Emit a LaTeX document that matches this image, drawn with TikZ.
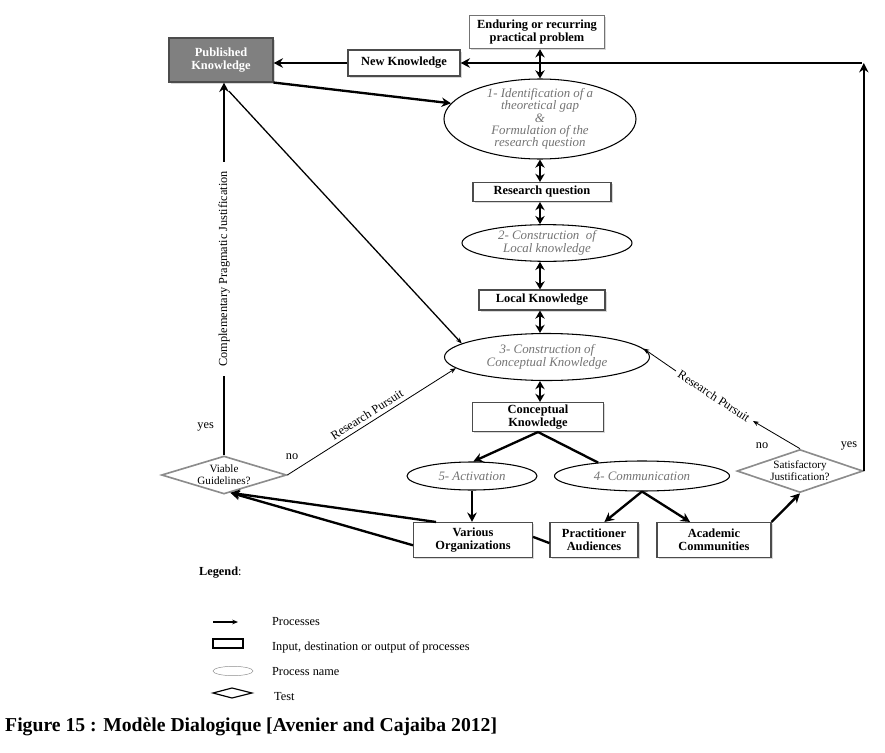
\documentclass[tikz,border=0pt]{standalone}
\usepackage{fontspec}
\setmainfont{Liberation Serif}
\usetikzlibrary{shapes.geometric, shadows, arrows.meta}

\tikzset{
  kbox/.style={draw=black!70, line width=0.9pt, fill=white, align=center,
    font=\fontsize{10.6}{11}\selectfont\bfseries, inner sep=1pt,
    drop shadow={shadow xshift=1.3pt, shadow yshift=-1.3pt, fill=black!30}},
  proc/.style={ellipse, draw, line width=0.9pt, align=center, inner sep=0pt,
    text=black!55, font=\fontsize{11}{11.2}\selectfont\itshape},
  test/.style={diamond, draw=black!45, line width=1.4pt, align=center,
    inner sep=0pt, aspect=3, font=\fontsize{9.5}{10}\selectfont},
  flow/.style={line width=2pt, -{Stealth[length=8pt, width=8pt]}},
  twoway/.style={line width=2pt, {Stealth[length=7pt, width=8pt]}-{Stealth[length=7pt, width=8pt]}},
  thinflow/.style={line width=0.7pt, -{Stealth[length=5pt, width=4pt]}},
  lbl/.style={font=\fontsize{10.5}{11}\selectfont},
}

\begin{document}
\begin{tikzpicture}[x=0.03cm, y=-0.03cm]
  \useasboundingbox (0,0) rectangle (885,753);

  %% ---- Boxes (inputs / outputs) ----
  \node[kbox, fill=black!50, text=white, minimum width=3.12cm, minimum height=1.32cm]
    (pub) at (221,60) {Published\\Knowledge};
  \node[kbox, minimum width=3.36cm, minimum height=0.78cm] (newk) at (404,63) {New Knowledge};
  \node[kbox, draw=black!55, minimum width=4.05cm, minimum height=1.0cm]
    (prob) at (537,32) {Enduring or recurring\\practical problem};
  \node[kbox, minimum width=4.14cm, minimum height=0.57cm] (rq) at (542,192) {Research question};
  \node[kbox, minimum width=3.78cm, minimum height=0.6cm] (lk) at (542,300) {Local Knowledge};
  \node[kbox, minimum width=3.93cm, minimum height=0.87cm] (ck) at (538,417) {Conceptual\\Knowledge};
  \node[kbox, minimum width=3.57cm, minimum height=1.05cm] (vo) at (473,540) {Various\\Organizations};
  \node[kbox, minimum width=2.64cm, minimum height=1.05cm] (pa) at (594,540) {Practitioner\\Audiences};
  \node[kbox, minimum width=3.42cm, minimum height=1.05cm] (ac) at (714,540) {Academic\\Communities};

  %% ---- Process names ----
  \node[proc, minimum width=5.76cm, minimum height=2.4cm, inner ysep=-9pt,
    font=\fontsize{11}{10.5}\selectfont\itshape] (e1) at (540,119)
    {1- Identification of a\\theoretical gap\\\&\\Formulation of the\\research question};
  \node[proc, minimum width=5.1cm, minimum height=1.1cm] (e2) at (547,243)
    {2- Construction\ \ of\\Local knowledge};
  \node[proc, minimum width=6.15cm, minimum height=1.41cm] (e3) at (547,357)
    {3- Construction of\\Conceptual Knowledge};
  \node[proc, minimum width=3.9cm, minimum height=0.84cm] (e5) at (472,476) {5- Activation};
  \node[proc, minimum width=5.25cm, minimum height=0.9cm] (e4) at (642,476) {4- Communication};

  %% ---- Tests ----
  \node[test, minimum width=3.75cm, minimum height=1.14cm] (viable) at (224,475) {Viable\\Guidelines?};
  \node[test, minimum width=3.78cm, minimum height=1.29cm] (satis) at (800,471) {Satisfactory\\Justification?};

  %% ---- Central column ----
  \coordinate (col) at (540,0);
  \draw[twoway] (col |- prob.south) -- (col |- e1.north);
  \draw[twoway] (col |- e1.south) -- (col |- rq.north);
  \draw[twoway] (col |- rq.south) -- (col |- e2.north);
  \draw[twoway] (col |- e2.south) -- (col |- lk.north);
  \draw[twoway] (col |- lk.south) -- (col |- e3.north);
  \draw[twoway] (col |- e3.south) -- (col |- ck.north);

  %% ---- Top loop ----
  \coordinate (corner) at (862,63);
  \draw[flow] (satis.east) -- (satis.east |- corner);
  \draw[flow] (corner) -- (newk.east);
  \draw[flow] (newk.west) -- (newk.west -| pub.east);
  \draw[flow] (pub.south east) -- (e1.170);
  \draw[thinflow, line width=1.1pt, shorten <=0.35cm] (pub.south) -- (e3.171);

  %% ---- Left test ----
  \draw[flow] (viable.north) -- (viable.north |- pub.south)
    node[lbl, midway, sloped, fill=white, inner xsep=8pt, inner ysep=1pt] (cpj)
    {Complementary Pragmatic Justification};
  \node[lbl, anchor=east] (yes1) at (218,427) {yes};
  \node[lbl] (no1) at (292,457) {no};
  \draw[thinflow] (viable.east) -- (e3.187)
    node[lbl, midway, above, sloped] (rp1) {Research Pursuit};

  %% ---- Right test ----
  \node[lbl] (no2) at (762,446) {no};
  \node[lbl] (yes2) at (849,446) {yes};
  \coordinate (rpa) at (753,421);
  \coordinate (rpb) at (676,371);
  \draw[thinflow] (satis.north) -- (rpa);
  \node[lbl, rotate=-33] (rp2) at (714,396) {Research Pursuit};
  \draw[thinflow] (rpb) -- (e3.5);

  %% ---- Bottom ----
  \draw[flow] (ck.south) -- (e5.85);
  \draw[line width=2pt] (ck.south) -- (e4.163);
  \draw[flow] (e5.south) -- (e5.south |- vo.north);
  \draw[flow] (e4.south) -- (pa.60);
  \draw[flow] (e4.south) -- (ac.143);
  \draw[line width=2pt] (vo.3) -- (pa.184);
  \draw[flow] (vo.154) -- (viable.-70);
  \draw[flow] (vo.185) -- (viable.-70);
  \draw[flow] (ac.north east) -- (satis.south);

  %% ---- Legend ----
  \node[lbl, anchor=west] (legend) at (195,573) {\textbf{Legend}:};
  \draw[line width=1.2pt, -{Stealth[length=5pt, width=4pt]}] (213,622) -- (238,622);
  \node[lbl, anchor=west] (lproc) at (268,622) {Processes};
  \draw[line width=1.2pt] (213,639) rectangle (243,648);
  \node[lbl, anchor=west] (lio) at (268,647) {Input, destination or output of processes};
  \draw[black!45] (233,671) ellipse (0.6cm and 0.14cm);
  \node[lbl, anchor=west] (lname) at (268,672) {Process name};
  \draw[line width=1pt] (213,693) -- (232,688) -- (252,693) -- (232,698) -- cycle;
  \node[lbl, anchor=west] (ltest) at (270,697) {Test};

  %% Caption
  \node[font=\fontsize{16.8}{18}\selectfont\bfseries, anchor=west, inner sep=0pt] (cap) at (5,727)
    {Figure 15 : Modèle Dialogique [Avenier and Cajaiba 2012]};

\end{tikzpicture}
\end{document}
